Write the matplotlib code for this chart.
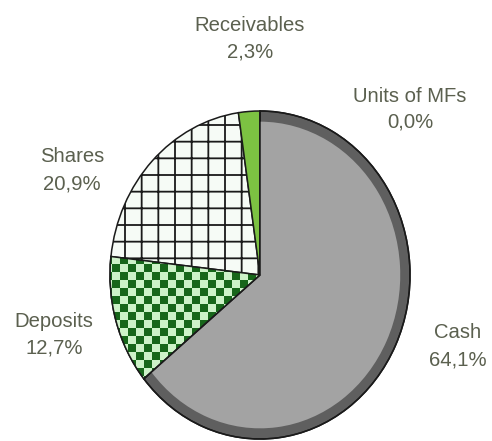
import numpy as np
import matplotlib
matplotlib.use("Agg")
import matplotlib.pyplot as plt
from matplotlib.patches import Wedge

labels = ["Cash", "Deposits", "Shares", "Receivables", "Units of MFs"]
shares = [64.1, 12.7, 20.9, 2.3, 0.0]
pct_text = ["64,1%", "12,7%", "20,9%", "2,3%", "0,0%"]

# label anchors in pixels from top-left: (centre x, first baseline, second baseline)
label_pos = {
    "Cash": (458, 338, 365),
    "Deposits": (54, 327, 353),
    "Shares": (72, 162, 189),
    "Receivables": (250, 31, 57),
    "Units of MFs": (410, 102, 128),
}

W, H = 492, 441
plt.rcParams["hatch.color"] = "#1d4f1d"
plt.rcParams["hatch.linewidth"] = 1.3
fig = plt.figure(figsize=(W / 100, H / 100), dpi=100)
ax = fig.add_axes([0, 0, 1, 1])

# pie centre / radii in pixels
cx, cy = 260, 275
rx, ry = 150, 164

colors = ["#5f5f5f", "#1e6e1e", "#f6fbf6", "#7cc242", "#bbbbbb"]
wedges, _ = ax.pie(shares, startangle=90, counterclock=False, colors=colors,
                   radius=1, wedgeprops=dict(edgecolor="#1a1a1a", linewidth=1.1))
ax.set_aspect("auto")
ax.set_xlim(-cx / rx, (W - cx) / rx)
ax.set_ylim(-(H - cy) / ry, cy / ry)
ax.axis("off")
xl, yl = ax.get_xlim(), ax.get_ylim()

# cash: lighter face inside a darker rim
cash = wedges[0]
inner = Wedge((0, 0), 0.935, cash.theta1, cash.theta2, facecolor="#a3a3a3",
              edgecolor="none", zorder=cash.get_zorder() + 0.1)
ax.add_patch(inner)
rim = Wedge((0, 0), 1, cash.theta1, cash.theta2, facecolor="none",
            edgecolor="#1a1a1a", linewidth=1.1, zorder=cash.get_zorder() + 0.2)
ax.add_patch(rim)

# deposits: checkerboard texture clipped to the wedge
dep = wedges[1]
n = 60
cb = (np.add.outer(np.arange(n), np.arange(n)) % 2).astype(float)
cmap = matplotlib.colors.ListedColormap(["#cdf2c8", "#17661a"])
img = ax.imshow(cb, cmap=cmap, extent=[xl[0], xl[0] + n * 8 / rx, yl[1] - n * 8 / ry, yl[1]],
                interpolation="nearest", zorder=dep.get_zorder() + 0.1, aspect="auto")
img.set_clip_path(dep)
dep_edge = Wedge((0, 0), 1, dep.theta1, dep.theta2, facecolor="none",
                 edgecolor="#1a1a1a", linewidth=1.1, zorder=dep.get_zorder() + 0.2)
ax.add_patch(dep_edge)

# shares: grid hatch
sh = wedges[2]
sh.set_hatch("+")
sh.set_edgecolor("#1a1a1a")
ax.set_xlim(xl)
ax.set_ylim(yl)

font = ["Liberation Sans Narrow", "Liberation Sans", "DejaVu Sans"]
for lab, pct in zip(labels, pct_text):
    px, b1, b2 = label_pos[lab]
    x = (px - cx) / rx
    for txt, b in ((lab, b1), (pct, b2)):
        ax.text(x, (cy - b) / ry, txt, ha="center", va="baseline", fontsize=14.6,
                family=font, color="#5b604f")

fig.savefig("out.png", dpi=100)
